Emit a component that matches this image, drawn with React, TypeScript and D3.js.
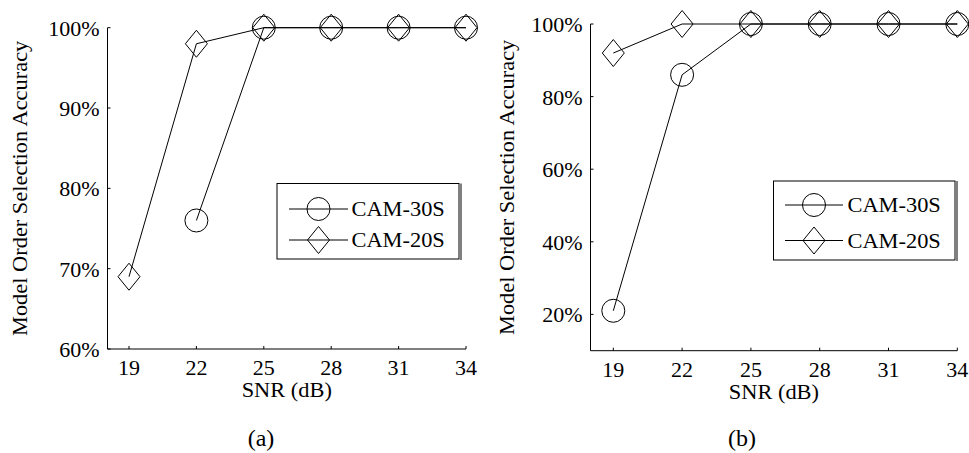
import React from 'react';
import * as d3 from 'd3';

// SNR values shared by both panels
const snr = [19, 22, 25, 28, 31, 34];

// panel (a)
const cam30A: (number | null)[] = [null, 76, 100, 100, 100, 100];
const cam20A: (number | null)[] = [69, 98, 100, 100, 100, 100];
const yTicksA = [60, 70, 80, 90, 100];

// panel (b)
const cam30B: (number | null)[] = [21, 86, 100, 100, 100, 100];
const cam20B: (number | null)[] = [92, 100, 100, 100, 100, 100];
const yTicksB = [20, 40, 60, 80, 100];

const seriesNames = ['CAM-30S', 'CAM-20S'];

const FONT = "'Liberation Serif', 'Times New Roman', Times, serif";
const TICK_FS = 22;
const LABEL_FS = 20;
const STRETCH = 1.12; // labels/legend in the original are a bit wide

interface PanelProps {
  caption: string;
  s30: (number | null)[];
  s20: (number | null)[];
  yTicks: number[];
  yDomain: [number, number];
  axisLeft: number;
  xRange: [number, number];
  yRange: [number, number];
  labelX: number;
  xLabelY: number;
  captionX: number;
  legend: { x0: number; x1: number; y0: number; y1: number; lineX0: number; lineX1: number; textX: number; rows: number[] };
}

const Diamond = ({ cx, cy }: { cx: number; cy: number }) => (
  <path
    d={`M${cx},${cy - 13.5} L${cx + 11},${cy} L${cx},${cy + 13.5} L${cx - 11},${cy} Z`}
    fill="none"
    stroke="#000"
    strokeWidth={1}
  />
);

const Circle = ({ cx, cy }: { cx: number; cy: number }) => (
  <circle cx={cx} cy={cy} r={11.5} fill="none" stroke="#000" strokeWidth={1} />
);

const Panel: React.FC<PanelProps> = (p) => {
  const x = d3.scaleLinear().domain([19, 34]).range(p.xRange);
  const y = d3.scaleLinear().domain(p.yDomain).range(p.yRange);
  const bottom = p.yRange[0];
  const top = y(100);
  const right = p.xRange[1];

  const line = d3
    .line<number | null>()
    .defined((d) => d !== null)
    .x((_, i) => x(snr[i]))
    .y((d) => y(d as number));

  const pts = (vals: (number | null)[]) =>
    vals.map((v, i) => ({ v, i })).filter((d) => d.v !== null) as { v: number; i: number }[];

  const lg = p.legend;
  const markerX = (lg.lineX0 + lg.lineX1) / 2;
  const midY = (bottom + top) / 2;

  return (
    <g style={{ fontFamily: FONT, fontSize: TICK_FS }} fill="#000">
      {/* axes */}
      <line x1={p.axisLeft} x2={p.axisLeft} y1={top} y2={bottom} stroke="#000" />
      <line x1={p.axisLeft} x2={right} y1={bottom} y2={bottom} stroke="#000" />
      {snr.map((t) => (
        <g key={t}>
          <line x1={x(t)} x2={x(t)} y1={bottom} y2={bottom - 3} stroke="#000" />
          <text x={x(t)} y={bottom + 26} textAnchor="middle">
            {t}
          </text>
        </g>
      ))}
      {p.yTicks.map((t) => (
        <g key={t}>
          <line x1={p.axisLeft} x2={p.axisLeft + 3} y1={y(t)} y2={y(t)} stroke="#000" />
          <text x={p.axisLeft - 8} y={y(t)} dy="0.36em" textAnchor="end">
            {t}%
          </text>
        </g>
      ))}
      <text
        transform={`translate(${(p.axisLeft + right) / 2},${p.xLabelY}) scale(${STRETCH},1)`}
        textAnchor="middle"
        style={{ fontSize: LABEL_FS }}
      >
        SNR (dB)
      </text>
      <text
        transform={`translate(${p.labelX},${midY}) rotate(-90) scale(${STRETCH},1)`}
        textAnchor="middle"
        style={{ fontSize: LABEL_FS }}
      >
        Model Order Selection Accuracy
      </text>
      <text x={p.captionX} y={446} textAnchor="middle" style={{ fontSize: 24 }}>
        {p.caption}
      </text>

      {/* series */}
      <path d={line(p.s30) || ''} fill="none" stroke="#000" />
      <path d={line(p.s20) || ''} fill="none" stroke="#000" />
      {pts(p.s30).map((d) => (
        <Circle key={'c' + d.i} cx={x(snr[d.i])} cy={y(d.v)} />
      ))}
      {pts(p.s20).map((d) => (
        <Diamond key={'d' + d.i} cx={x(snr[d.i])} cy={y(d.v)} />
      ))}

      {/* legend */}
      <rect x={lg.x0} y={lg.y0} width={lg.x1 - lg.x0} height={lg.y1 - lg.y0} fill="#fff" stroke="#000" />
      <line x1={lg.x1 + 2} x2={lg.x1 + 2} y1={lg.y0} y2={lg.y1 + 1} stroke="#000" />
      {seriesNames.map((name, i) => (
        <g key={name}>
          <line x1={lg.lineX0} x2={lg.lineX1} y1={lg.rows[i]} y2={lg.rows[i]} stroke="#000" />
          {i === 0 ? <Circle cx={markerX} cy={lg.rows[i]} /> : <Diamond cx={markerX} cy={lg.rows[i]} />}
          <text
            transform={`translate(${lg.textX},${lg.rows[i]}) scale(${STRETCH},1)`}
            dy="0.35em"
            style={{ fontSize: LABEL_FS }}
          >
            {name}
          </text>
        </g>
      ))}
    </g>
  );
};

const App: React.FC = () => (
  <svg
    width={969}
    height={453}
    style={{ position: 'absolute', left: 0, top: 0, background: '#fff' }}
  >
    <rect width={969} height={453} fill="#fff" />
    <Panel
      caption="(a)"
      s30={cam30A}
      s20={cam20A}
      yTicks={yTicksA}
      yDomain={[60, 100]}
      axisLeft={107.5}
      xRange={[129, 466]}
      yRange={[349, 27.7]}
      labelX={27}
      xLabelY={397}
      captionX={261}
      legend={{ x0: 277, x1: 459, y0: 183.5, y1: 259, lineX0: 289, lineX1: 348, textX: 351.5, rows: [209, 240] }}
    />
    <Panel
      caption="(b)"
      s30={cam30B}
      s20={cam20B}
      yTicks={yTicksB}
      yDomain={[10, 100]}
      axisLeft={590.5}
      xRange={[613.3, 957.3]}
      yRange={[350.7, 24]}
      labelX={514}
      xLabelY={399}
      captionX={742}
      legend={{ x0: 773.5, x1: 955, y0: 181, y1: 260, lineX0: 785, lineX1: 843, textX: 847.5, rows: [205, 240.5] }}
    />
  </svg>
);

export default App;
